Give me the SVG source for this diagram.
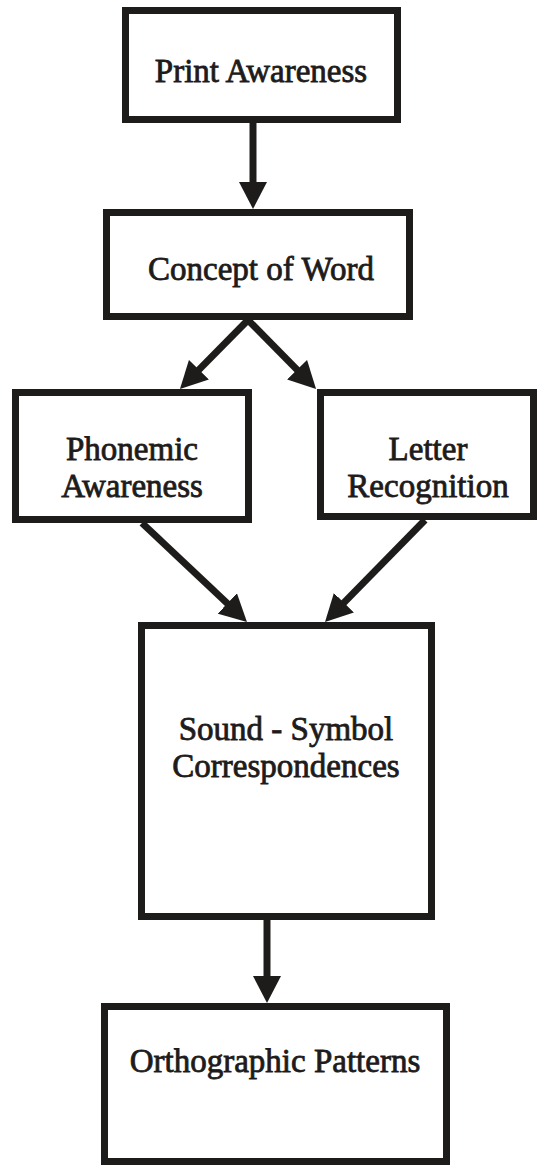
<svg xmlns="http://www.w3.org/2000/svg" width="541" height="1168" viewBox="0 0 541 1168">
<style>
.box{fill:#ffffff;stroke:#1e1b1b;stroke-width:7}
.lbl{font-family:"Liberation Serif","Times New Roman",serif;font-size:33px;fill:#1e1b1b;stroke:#1e1b1b;stroke-width:0.8;text-anchor:middle}
.conn{stroke:#1e1b1b;stroke-width:7;fill:none;marker-end:url(#head)}
</style>
<defs>
<marker id="head" markerUnits="userSpaceOnUse" markerWidth="28" markerHeight="28" refX="10" refY="14" orient="auto" viewBox="0 0 28 28">
<path d="M0,0 L27,14 L0,28 z" fill="#1e1b1b"/>
</marker>
</defs>
<rect width="541" height="1168" fill="#ffffff"/>
<g id="connectors">
<line class="conn" x1="253" y1="123" x2="253" y2="192"/>
<line class="conn" x1="248" y1="320" x2="191.9" y2="376.9"/>
<line class="conn" x1="248" y1="320" x2="304.1" y2="376.9"/>
<line class="conn" x1="142" y1="523" x2="234.6" y2="610.3"/>
<line class="conn" x1="425" y1="520" x2="336.9" y2="609.9"/>
<line class="conn" x1="267" y1="920" x2="267" y2="986"/>
</g>
<g id="print-awareness">
<rect class="box" x="125.5" y="10.5" width="272" height="109"/>
<text class="lbl" x="261" y="82">Print Awareness</text>
</g>
<g id="concept-of-word">
<rect class="box" x="106.5" y="212.5" width="303" height="104"/>
<text class="lbl" x="261" y="280">Concept of Word</text>
</g>
<g id="phonemic-awareness">
<rect class="box" x="15.5" y="392.5" width="233" height="127"/>
<text class="lbl" x="132" y="460">Phonemic</text>
<text class="lbl" x="132" y="497">Awareness</text>
</g>
<g id="letter-recognition">
<rect class="box" x="320.5" y="392.5" width="213" height="124"/>
<text class="lbl" x="428" y="460">Letter</text>
<text class="lbl" x="428" y="497">Recognition</text>
</g>
<g id="sound-symbol">
<rect class="box" x="141.5" y="625.5" width="290" height="291"/>
<text class="lbl" x="286" y="740">Sound - Symbol</text>
<text class="lbl" x="286" y="777">Correspondences</text>
</g>
<g id="orthographic-patterns">
<rect class="box" x="104.5" y="1006.5" width="342" height="155"/>
<text class="lbl" x="275" y="1072">Orthographic Patterns</text>
</g>
</svg>
